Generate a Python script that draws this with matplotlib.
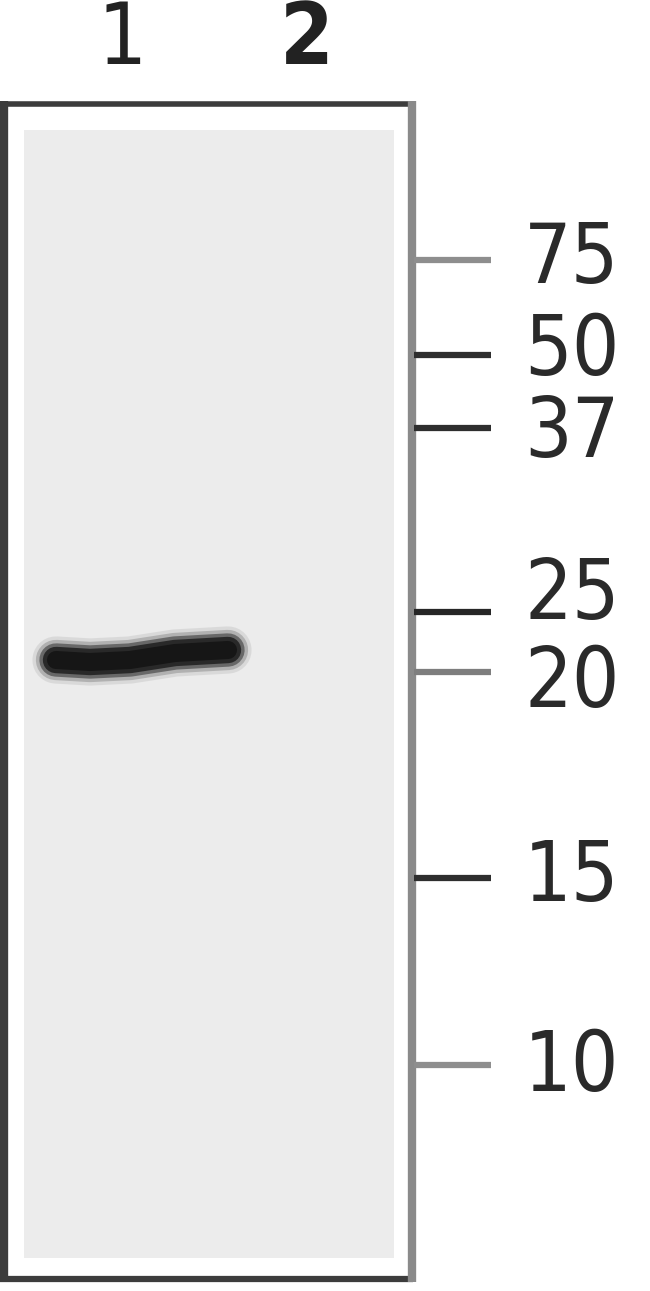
import matplotlib
matplotlib.use("Agg")
import matplotlib.pyplot as plt
from matplotlib import font_manager
from matplotlib.patches import Rectangle

# Daten: Markerbanden (kDa) und ihre Laufstrecke im Gel (px von oben)
marker_kda = [75, 50, 37, 25, 20, 15, 10]
marker_pos = [260, 355, 428, 612, 672, 878, 1065]
marker_shade = ["#8e8e8e", "#2e2e2e", "#2e2e2e", "#262626", "#7e7e7e", "#2e2e2e", "#8e8e8e"]
label_shift = [0, -4, 6, -16, 12, 0, 2]

lanes = ["1", "2"]
lane_x = [122, 307]
lane_weight = ["normal", "bold"]

# Bande in Spur 1 (Verlauf der Bandenmitte)
band_x = [56, 90, 130, 175, 228]
band_y = [660, 662, 660, 653, 650]

# Schrift: schmale Variante falls vorhanden
names = {f.name for f in font_manager.fontManager.ttflist}
font_kw = {"family": "DejaVu Sans"}
if "Liberation Sans Narrow" in names:
    font_kw = {"family": "Liberation Sans Narrow"}
elif any(f.name == "DejaVu Sans" and f.stretch == "condensed" for f in font_manager.fontManager.ttflist):
    font_kw = {"family": "DejaVu Sans", "stretch": "condensed"}

fig = plt.figure(figsize=(6.5, 12.91), dpi=100)
ax = fig.add_axes([0, 0, 1, 1])
ax.set_xlim(0, 650)
ax.set_ylim(1291, 0)
ax.axis("off")

# Membran
ax.add_patch(Rectangle((24, 130), 370, 1128, facecolor="#ececec", edgecolor="none"))

# Rahmen
ax.plot([4, 4], [101, 1282], color="#3c3c3c", lw=6.0, solid_capstyle="butt")
ax.plot([0, 413], [104, 104], color="#3c3c3c", lw=4.0, solid_capstyle="butt")
ax.plot([0, 413], [1279, 1279], color="#3c3c3c", lw=4.5, solid_capstyle="butt")
ax.plot([412, 412], [101, 1282], color="#8a8a8a", lw=6.0, solid_capstyle="butt")

# Bande, weiche Kanten durch mehrere Striche
for lw, col, a in [(34, "#c8c8c8", 0.5), (29, "#8a8a8a", 0.5), (24, "#4a4a4a", 0.7),
                   (19, "#262626", 0.95), (13, "#161616", 1.0)]:
    ax.plot(band_x, band_y, color=col, lw=lw, alpha=a, solid_capstyle="round")

# Marker-Striche und Beschriftungen
for kda, pos, col, sh in zip(marker_kda, marker_pos, marker_shade, label_shift):
    ax.plot([414, 491], [pos, pos], color=col, lw=4.5, solid_capstyle="butt")
    ax.text(524, pos + sh, str(kda), fontsize=60, color="#2a2a2a",
            ha="left", va="center", **font_kw)

# Spurbezeichnungen
for lab, x, w in zip(lanes, lane_x, lane_weight):
    ax.text(x, 40, lab, fontsize=62, color="#222222", fontweight=w,
            ha="center", va="center", **font_kw)

fig.savefig("out.png", dpi=100)
